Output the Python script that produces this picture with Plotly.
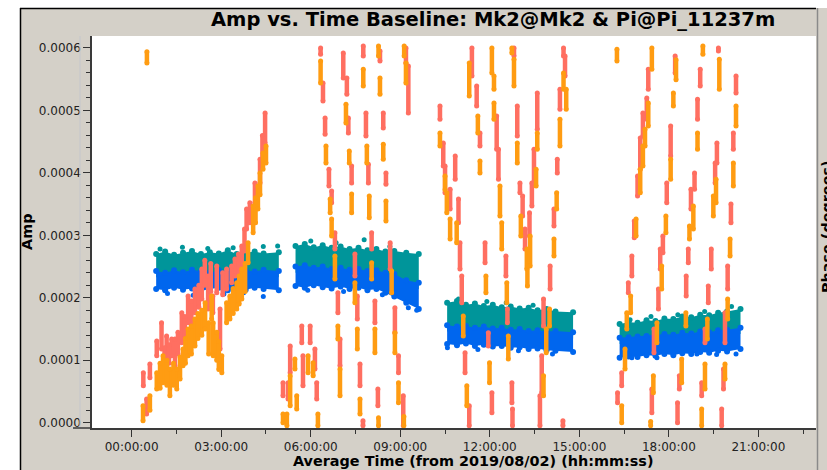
import numpy as np
import pandas as pd
import plotly.graph_objects as go

DAY0 = pd.Timestamp("2019-08-02 00:00:00")
AMP_UNIT = 1e-4  # amplitudes below are stored in units of 1e-4

# ---- steady correlations: band edges per scan (hours since 2019/08/02, amp x1e-4) ----
scan_hours = [
    [0.82, 1.12, 1.42, 1.72, 2.02, 2.32, 2.62, 2.92, 3.22, 3.52, 3.82, 4.12, 4.42, 4.93],
    [5.49, 5.80, 6.10, 6.40, 6.70, 7.00, 7.30, 7.60, 7.90, 8.20, 8.50, 8.80, 9.20, 9.62],
    [10.57, 10.90, 11.20, 11.50, 11.80, 12.10, 12.40, 12.70, 13.00, 13.30, 13.60, 13.90, 14.20, 14.79],
    [16.35, 16.65, 16.95, 17.25, 17.55, 17.85, 18.15, 18.45, 18.75, 19.05, 19.35, 19.65, 19.95, 20.40],
]
teal_top = [
    [2.70, 2.74, 2.69, 2.72, 2.75, 2.70, 2.73, 2.71, 2.76, 2.70, 2.72, 2.74, 2.71, 2.73],
    [2.83, 2.86, 2.81, 2.84, 2.80, 2.82, 2.78, 2.80, 2.76, 2.78, 2.74, 2.75, 2.72, 2.70],
    [1.92, 1.95, 1.89, 1.91, 1.87, 1.89, 1.85, 1.86, 1.83, 1.84, 1.80, 1.82, 1.78, 1.77],
    [1.58, 1.61, 1.60, 1.64, 1.63, 1.67, 1.66, 1.70, 1.69, 1.73, 1.72, 1.76, 1.78, 1.82],
]
blue_top = [
    [2.43, 2.40, 2.44, 2.41, 2.45, 2.42, 2.40, 2.44, 2.43, 2.41, 2.44, 2.42, 2.45, 2.43],
    [2.50, 2.52, 2.48, 2.50, 2.46, 2.48, 2.45, 2.46, 2.43, 2.44, 2.40, 2.38, 2.28, 2.24],
    [1.56, 1.54, 1.55, 1.52, 1.54, 1.51, 1.52, 1.49, 1.50, 1.47, 1.48, 1.46, 1.47, 1.45],
    [1.36, 1.37, 1.38, 1.39, 1.40, 1.42, 1.41, 1.44, 1.43, 1.46, 1.45, 1.48, 1.49, 1.52],
]
blue_bottom = [
    [2.14, 2.12, 2.16, 2.13, 2.15, 2.11, 2.14, 2.16, 2.12, 2.15, 2.13, 2.16, 2.14, 2.12],
    [2.19, 2.16, 2.20, 2.17, 2.15, 2.18, 2.14, 2.16, 2.12, 2.14, 2.08, 2.02, 1.92, 1.82],
    [1.26, 1.24, 1.27, 1.23, 1.25, 1.22, 1.23, 1.20, 1.21, 1.18, 1.19, 1.16, 1.15, 1.13],
    [1.04, 1.06, 1.05, 1.08, 1.07, 1.10, 1.08, 1.11, 1.10, 1.13, 1.12, 1.15, 1.14, 1.18],
]
teal_stray_h = [0.95, 1.70, 2.55, 3.40, 4.41, 4.89, 6.00, 6.85, 7.79, 8.65, 10.95, 11.90, 12.55, 13.45,
                16.70, 17.40, 18.30, 19.20, 20.10]
teal_stray_amp = [2.78, 2.81, 2.79, 2.80, 2.82, 2.83, 2.91, 2.88, 2.93, 2.82, 1.98, 1.94, 1.92, 1.88,
                  1.65, 1.70, 1.73, 1.78, 1.86]
blue_stray_h = [1.20, 2.06, 3.09, 3.75, 4.41, 5.90, 7.10, 8.40, 9.27, 9.55, 10.58, 11.60, 12.96, 14.10,
                16.76, 17.60, 18.94, 19.60, 20.25]
blue_stray_amp = [2.07, 2.04, 2.06, 2.08, 2.02, 2.12, 2.10, 2.05, 1.84, 1.80, 1.20, 1.17, 1.15, 1.10,
                  1.04, 1.04, 1.10, 1.09, 1.10]

# ---- wrapping correlations: dashes as (hour, amp_top, amp_bottom), amp x1e-4 ----
salmon_segments = [
    (0.50, 0.38, 0.14), (0.39, 0.80, 0.59), (0.61, 0.94, 0.72), (0.84, 1.31, 1.07), (1.00, 1.60, 1.18),
    (1.17, 1.39, 0.96), (1.34, 1.34, 1.07), (1.45, 1.34, 0.91), (1.68, 1.76, 1.28), (1.89, 2.03, 1.60),
    (2.12, 2.14, 1.76), (2.35, 2.46, 1.98), (2.56, 2.35, 1.82), (2.72, 2.03, 1.76), (2.85, 2.51, 2.08),
    (2.96, 1.82, 1.18), (3.18, 2.46, 2.14), (3.35, 2.51, 2.24), (3.46, 2.62, 2.35), (3.69, 2.83, 2.46),
    (3.85, 3.42, 3.10), (3.96, 3.52, 3.20), (4.13, 3.84, 3.52), (4.30, 4.22, 3.84), (4.47, 4.96, 4.48),
    (1.10, 1.20, 0.85), (1.25, 1.25, 0.95), (1.55, 1.45, 1.10), (1.78, 1.70, 1.35), (2.00, 1.95, 1.55),
    (2.25, 2.20, 1.85), (2.45, 2.60, 2.20), (2.65, 2.55, 2.10), (3.05, 2.40, 2.05), (3.58, 2.70, 2.40),
    (3.78, 3.10, 2.75), (4.38, 4.60, 4.20),
    (5.07, 0.64, 0.43), (5.24, 0.64, 0.38), (5.31, 1.23, 0.80), (5.70, 1.55, 1.28), (5.74, 1.07, 0.59),
    (5.98, 1.55, 1.28), (6.14, 1.18, 0.86), (6.20, 0.64, 0.38),
    (6.33, 6.00, 5.90), (6.41, 5.44, 5.15), (6.48, 4.88, 4.62), (6.61, 4.06, 3.79), (6.70, 3.71, 3.52),
    (6.81, 3.04, 2.78), (6.91, 2.08, 1.76), (6.98, 1.34, 0.91),
    (7.09, 5.92, 5.52), (7.21, 5.52, 5.26), (7.26, 4.88, 4.64), (7.37, 4.11, 3.84), (7.48, 2.70, 2.35),
    (7.56, 2.03, 1.66), (7.65, 0.94, 0.59), (7.75, 0.03, -0.05),
    (7.76, 6.03, 5.87), (7.85, 4.96, 4.59), (7.93, 4.14, 3.84), (8.04, 3.04, 2.78), (8.15, 1.95, 1.60),
    (8.25, 0.54, 0.27),
    (8.32, 5.95, 5.79), (8.43, 4.96, 4.72), (8.52, 4.00, 3.82), (8.66, 2.88, 2.46), (8.82, 1.84, 1.44),
    (8.94, 1.07, 0.80), (9.10, 0.43, -0.05),
    (9.19, 6.00, 5.76), (9.27, 5.71, 4.96),
    (10.33, 5.07, 4.86), (10.44, 4.48, 4.11), (10.50, 4.11, 3.68), (10.67, 3.74, 3.42), (10.84, 4.27, 3.90),
    (10.95, 3.58, 3.20), (11.00, 2.88, 2.46), (11.06, 2.35, 1.92), (11.17, 1.12, 0.80), (11.31, 0.27, -0.05),
    (11.40, 6.00, 5.55), (11.56, 5.39, 5.07), (11.67, 4.64, 4.43),
    (12.23, 4.91, 4.38), (12.29, 4.38, 3.90), (12.54, 2.67, 2.35), (12.59, 1.82, 1.60), (12.74, 0.64, 0.32),
    (12.76, 0.22, -0.05), (11.84, 2.88, 2.56), (11.95, 1.44, 1.23), (12.07, 0.48, 0.16),
    (12.81, 6.00, 5.87), (12.92, 5.07, 4.59), (13.01, 3.84, 3.68), (13.10, 3.63, 3.31), (13.18, 3.10, 2.78),
    (13.59, 5.28, 4.70), (13.48, 4.38, 3.84), (13.41, 3.84, 3.47), (13.33, 3.36, 2.99), (13.80, 1.98, 1.55),
    (13.74, 1.07, 0.48), (13.68, 0.43, -0.05),
    (14.47, 6.00, 5.87), (14.52, 5.87, 5.55), (14.35, 5.34, 5.02), (14.26, 4.22, 4.00), (14.15, 3.42, 3.15),
    (14.02, 2.51, 2.14), (14.45, 0.03, -0.05),
    (17.31, 5.66, 5.34), (17.26, 5.20, 4.86), (17.13, 4.96, 4.59), (17.04, 4.56, 4.06), (16.95, 3.95, 3.63),
    (16.84, 3.23, 2.96), (16.76, 2.67, 2.35), (16.64, 2.24, 2.08), (16.42, 0.80, 0.59), (16.28, 0.48, 0.32),
    (18.21, 5.87, 5.60), (18.06, 4.75, 4.27), (17.93, 3.84, 3.52), (17.80, 2.99, 2.72), (17.71, 2.78, 2.46),
    (17.65, 2.14, 1.82), (17.50, 1.50, 1.12), (17.43, 0.54, 0.16),
    (19.05, 5.66, 5.39), (18.96, 5.18, 4.86), (18.86, 4.00, 3.74), (18.74, 3.74, 3.42), (18.65, 2.78, 2.56),
    (18.58, 2.35, 2.03), (18.35, 0.75, 0.54), (18.29, 0.32, 0.00),
    (19.66, 6.00, 5.95), (19.61, 4.48, 4.16), (19.55, 4.16, 3.84), (19.42, 2.78, 2.46), (19.32, 2.19, 1.92),
    (19.21, 1.50, 1.28), (19.10, 0.64, 0.43),
    (20.25, 5.55, 5.28), (20.16, 4.64, 4.38), (20.08, 3.50, 3.20), (19.97, 2.51, 2.14), (19.88, 1.76, 1.28),
    (19.83, 0.86, 0.54), (19.77, 0.22, -0.05),
]
orange_segments = [
    (0.51, 5.94, 5.76), (0.38, 0.27, 0.03), (0.61, 0.43, 0.20), (0.84, 0.80, 0.54), (1.05, 1.07, 0.64),
    (1.28, 0.86, 0.43), (1.51, 0.86, 0.54), (1.72, 1.18, 0.91), (1.89, 1.50, 1.07), (2.12, 1.66, 1.23),
    (2.35, 1.80, 1.40), (2.46, 1.92, 1.50), (2.68, 2.03, 1.66), (2.73, 1.60, 1.07), (3.02, 1.07, 0.80),
    (3.18, 1.92, 1.60), (3.29, 2.03, 1.66), (3.52, 2.24, 1.82), (3.69, 2.46, 1.98), (3.90, 2.88, 2.56),
    (4.07, 3.47, 3.04), (4.23, 3.79, 3.42), (4.40, 4.32, 4.06), (4.50, 4.43, 4.16),
    (0.95, 0.95, 0.55), (1.18, 1.00, 0.60), (1.40, 0.95, 0.60), (1.62, 1.05, 0.70), (1.80, 1.35, 0.95),
    (2.00, 1.55, 1.10), (2.22, 1.75, 1.35), (2.58, 1.60, 1.10), (2.85, 1.45, 1.00), (2.92, 1.30, 0.85),
    (3.40, 2.15, 1.75), (3.60, 2.35, 1.90), (3.80, 2.55, 2.10), (4.15, 3.60, 3.20), (4.30, 4.00, 3.65),
    (5.07, 0.14, 0.00), (5.20, 0.14, -0.05), (5.31, 0.75, 0.27), (5.47, 1.02, 0.86), (5.53, 0.43, 0.22),
    (5.91, 1.07, 0.80), (6.08, 0.96, 0.75), (6.24, 0.14, -0.05),
    (6.33, 5.79, 5.44), (6.51, 4.43, 4.16), (6.65, 3.58, 3.36), (6.70, 3.26, 2.99), (6.81, 2.67, 2.30),
    (6.91, 1.55, 1.34), (6.98, 0.86, 0.43),
    (7.18, 5.10, 4.80), (7.29, 4.35, 4.16), (7.37, 3.66, 3.36), (7.48, 2.24, 1.92), (7.56, 1.50, 1.18),
    (7.65, 0.38, 0.14),
    (7.76, 5.66, 5.39), (7.88, 4.43, 4.16), (7.96, 3.63, 3.28), (8.04, 2.56, 2.30), (8.15, 1.50, 1.12),
    (8.27, 0.08, -0.05),
    (8.27, 6.03, 5.87), (8.32, 5.52, 5.26), (8.43, 4.46, 4.22), (8.52, 3.55, 3.23), (8.71, 2.43, 2.08),
    (8.82, 1.44, 1.12), (8.94, 0.64, 0.32), (9.12, 0.10, -0.05),
    (9.13, 6.03, 5.87), (9.19, 5.76, 5.44),
    (10.33, 4.64, 4.43), (10.50, 3.95, 3.73), (10.56, 3.68, 3.36), (10.67, 3.26, 2.94), (10.89, 3.20, 2.88),
    (11.11, 1.71, 1.39), (11.23, 0.59, 0.27),
    (11.31, 5.76, 5.23), (11.60, 4.91, 4.64), (11.67, 4.19, 4.00),
    (12.07, 6.00, 5.60), (12.14, 5.55, 5.34), (12.14, 5.12, 4.86), (12.34, 3.79, 3.31), (12.40, 3.20, 2.78),
    (12.57, 2.24, 1.92), (12.62, 1.39, 1.02), (11.87, 2.35, 2.08), (11.99, 0.96, 0.64),
    (12.74, 6.00, 5.92), (12.81, 5.82, 5.39), (12.92, 4.48, 4.16), (13.04, 3.31, 2.99), (13.24, 2.78, 2.46),
    (13.59, 4.64, 4.38), (13.55, 4.06, 3.79), (13.35, 2.99, 2.51), (13.26, 2.51, 2.19), (14.00, 1.82, 1.55),
    (13.89, 1.50, 1.12), (13.80, 0.75, 0.43),
    (14.47, 5.60, 5.34), (14.56, 5.34, 5.02), (14.35, 4.86, 4.43), (14.24, 3.68, 3.42), (14.15, 2.94, 2.67),
    (16.26, 5.98, 5.79),
    (17.43, 6.00, 5.66), (17.31, 5.12, 4.75), (17.20, 4.70, 4.43), (17.13, 4.43, 4.11), (17.04, 4.06, 3.68),
    (16.90, 3.26, 2.99), (16.72, 2.03, 1.76), (16.59, 1.76, 1.50), (16.53, 1.18, 0.86), (16.42, 0.27, 0.00),
    (18.24, 5.81, 5.49), (18.15, 5.28, 5.07), (18.06, 4.22, 3.90), (17.90, 3.31, 3.04), (17.76, 2.51, 2.14),
    (17.60, 1.60, 1.28), (17.48, 0.75, 0.48), (17.39, 0.02, -0.05),
    (19.14, 6.03, 5.90), (18.96, 4.64, 4.38), (18.82, 3.47, 3.10), (18.69, 3.15, 2.94), (18.57, 1.76, 1.55),
    (18.43, 1.02, 0.64),
    (19.69, 5.82, 5.34), (19.58, 3.90, 3.52), (19.49, 3.63, 3.31), (19.29, 1.66, 1.34), (19.21, 0.94, 0.54),
    (19.10, 0.22, -0.05),
    (20.25, 5.07, 4.75), (20.16, 4.16, 3.79), (20.05, 2.94, 2.67), (19.97, 1.98, 1.66), (19.88, 0.94, 0.70),
]

y_tick_values = [0.0, 0.0001, 0.0002, 0.0003, 0.0004, 0.0005, 0.0006]
y_tick_labels = ["0.0000", "0.0001", "0.0002", "0.0003", "0.0004", "0.0005", "0.0006"]

TEAL = "#00959a"
BLUE = "#0066ee"
SALMON = "#ff6f61"
ORANGE = "#ff9c12"
PANEL = "#d4d0c8"
FONT = "DejaVu Sans"


def stamp(hours):
    """Hours after DAY0 -> ISO timestamp strings."""
    idx = DAY0 + pd.to_timedelta(np.atleast_1d(np.asarray(hours, dtype=float)), unit="h")
    return [t.isoformat() for t in idx]


def amp(values):
    return [v * AMP_UNIT for v in values]


fig = go.Figure()

# bands of the steady correlations
for hrs, top, btop, bbot in zip(scan_hours, teal_top, blue_top, blue_bottom):
    t = stamp(hrs)
    teal_low = [v - 0.10 for v in btop]
    fig.add_trace(go.Scatter(x=t + t[::-1], y=amp(top) + amp(teal_low)[::-1], mode="lines",
                             fill="toself", fillcolor=TEAL, line=dict(width=0), hoverinfo="skip"))
    fig.add_trace(go.Scatter(x=t, y=amp(top), mode="markers",
                             marker=dict(color=TEAL, size=6, line=dict(width=0)), hoverinfo="skip"))
    fig.add_trace(go.Scatter(x=t + t[::-1], y=amp(btop) + amp(bbot)[::-1], mode="lines",
                             fill="toself", fillcolor=BLUE, line=dict(width=0), hoverinfo="skip"))
    fig.add_trace(go.Scatter(x=t + t, y=amp(btop) + amp(bbot), mode="markers",
                             marker=dict(color=BLUE, size=6, line=dict(width=0)), hoverinfo="skip"))

fig.add_trace(go.Scatter(x=stamp(teal_stray_h), y=amp(teal_stray_amp), mode="markers",
                         marker=dict(color=TEAL, size=5, line=dict(width=0))))
fig.add_trace(go.Scatter(x=stamp(blue_stray_h), y=amp(blue_stray_amp), mode="markers",
                         marker=dict(color=BLUE, size=5, line=dict(width=0))))


def dashes(segments):
    xs, ys = [], []
    for h, top, bot in segments:
        t = stamp(h)[0]
        xs += [t, t, None]
        ys += [top * AMP_UNIT, bot * AMP_UNIT, None]
    return xs, ys


for segs, col in ((salmon_segments, SALMON), (orange_segments, ORANGE)):
    xs, ys = dashes(segs)
    fig.add_trace(go.Scatter(x=xs, y=ys, mode="lines+markers", connectgaps=False,
                             line=dict(color=col, width=4.5),
                             marker=dict(color=col, size=5, line=dict(width=0))))

# ---- layout: plot area spans x 92..816 px, y 36..428 px ----
L, R, T, B = 92, 11, 36, 42
W, H = 827, 470
PW, PH = W - L - R, H - T - B


def px_x(px):
    return (px - L) / PW


def px_y(py):
    return (H - B - py) / PH


shapes = [
    dict(type="rect", xref="paper", yref="paper", x0=px_x(20), x1=px_x(830), y0=px_y(472), y1=px_y(8),
         fillcolor=PANEL, line=dict(width=0), layer="below"),
    dict(type="rect", xref="paper", yref="paper", x0=0, x1=1, y0=0, y1=1,
         fillcolor="white", line=dict(width=0), layer="below"),
    dict(type="line", xref="paper", yref="paper", x0=px_x(20), x1=px_x(816), y0=px_y(8.5), y1=px_y(8.5),
         line=dict(color="black", width=1.5)),
    dict(type="line", xref="paper", yref="paper", x0=px_x(20.5), x1=px_x(20.5), y0=px_y(8), y1=px_y(472),
         line=dict(color="black", width=1.5)),
    dict(type="line", xref="paper", yref="paper", x0=px_x(817.5), x1=px_x(817.5), y0=px_y(8), y1=px_y(472),
         line=dict(color="#8a8a8a", width=1.5)),
    dict(type="line", xref="paper", yref="paper", x0=px_x(80), x1=px_x(80), y0=px_y(36), y1=px_y(428),
         line=dict(color="#c4c6cc", width=1)),
    dict(type="line", xref="paper", yref="paper", x0=px_x(73), x1=px_x(92), y0=0, y1=0,
         line=dict(color="#3a3a3a", width=1.5)),
]

annotations = [
    dict(text="<b>Amp vs. Time Baseline: Mk2@Mk2 & Pi@Pi_11237m</b>", x=px_x(492.5), y=px_y(19.5),
         xref="paper", yref="paper", showarrow=False, xanchor="center", yanchor="middle",
         font=dict(family=FONT, size=19.5, color="black")),
    dict(text="<b>Amp</b>", x=px_x(27.5), y=px_y(232.5), xref="paper", yref="paper", showarrow=False,
         textangle=-90, xanchor="center", yanchor="middle", font=dict(family=FONT, size=14.4, color="black")),
    dict(text="<b>Average Time (from 2019/08/02) (hh:mm:ss)</b>", x=px_x(473.3), y=px_y(461),
         xref="paper", yref="paper", showarrow=False, xanchor="center", yanchor="middle",
         font=dict(family=FONT, size=14.4, color="black")),
    dict(text="<b>Phase (degrees)</b>", x=px_x(827), y=px_y(227), xref="paper", yref="paper",
         showarrow=False, textangle=-90, xanchor="center", yanchor="middle",
         font=dict(family=FONT, size=14.4, color="black")),
]

fig.update_layout(
    width=W, height=H,
    margin=dict(l=L, r=R, t=T, b=B, pad=0),
    paper_bgcolor="white", plot_bgcolor="white",
    showlegend=False,
    font=dict(family=FONT, size=12, color="#222222"),
    shapes=shapes, annotations=annotations,
    xaxis=dict(
        type="date", range=stamp([-1.33, 22.93]), tick0=DAY0.isoformat(), dtick=3 * 3600 * 1000,
        tickformat="%H:%M:%S", ticks="outside", ticklen=7, tickwidth=1.2, tickcolor="#333333",
        minor=dict(dtick=1.5 * 3600 * 1000, ticks="outside", ticklen=4, tickcolor="#333333", tickwidth=1.2),
        showgrid=False, zeroline=False, showline=True, linecolor="#3a3a3a", linewidth=1.5,
        tickfont=dict(family=FONT, size=12, color="#222222"), fixedrange=True,
    ),
    yaxis=dict(
        range=[-0.0000085, 0.0006192], tickvals=y_tick_values, ticktext=y_tick_labels,
        ticks="outside", ticklen=7, tickwidth=1.2, tickcolor="#333333",
        minor=dict(dtick=0.00002, tick0=0, ticks="outside", ticklen=4, tickcolor="#333333", tickwidth=1.2),
        showgrid=False, zeroline=False, showline=True, linecolor="#3a3a3a", linewidth=1.5,
        tickfont=dict(family=FONT, size=12, color="#222222"), fixedrange=True,
    ),
)

fig.write_html("out.html")
